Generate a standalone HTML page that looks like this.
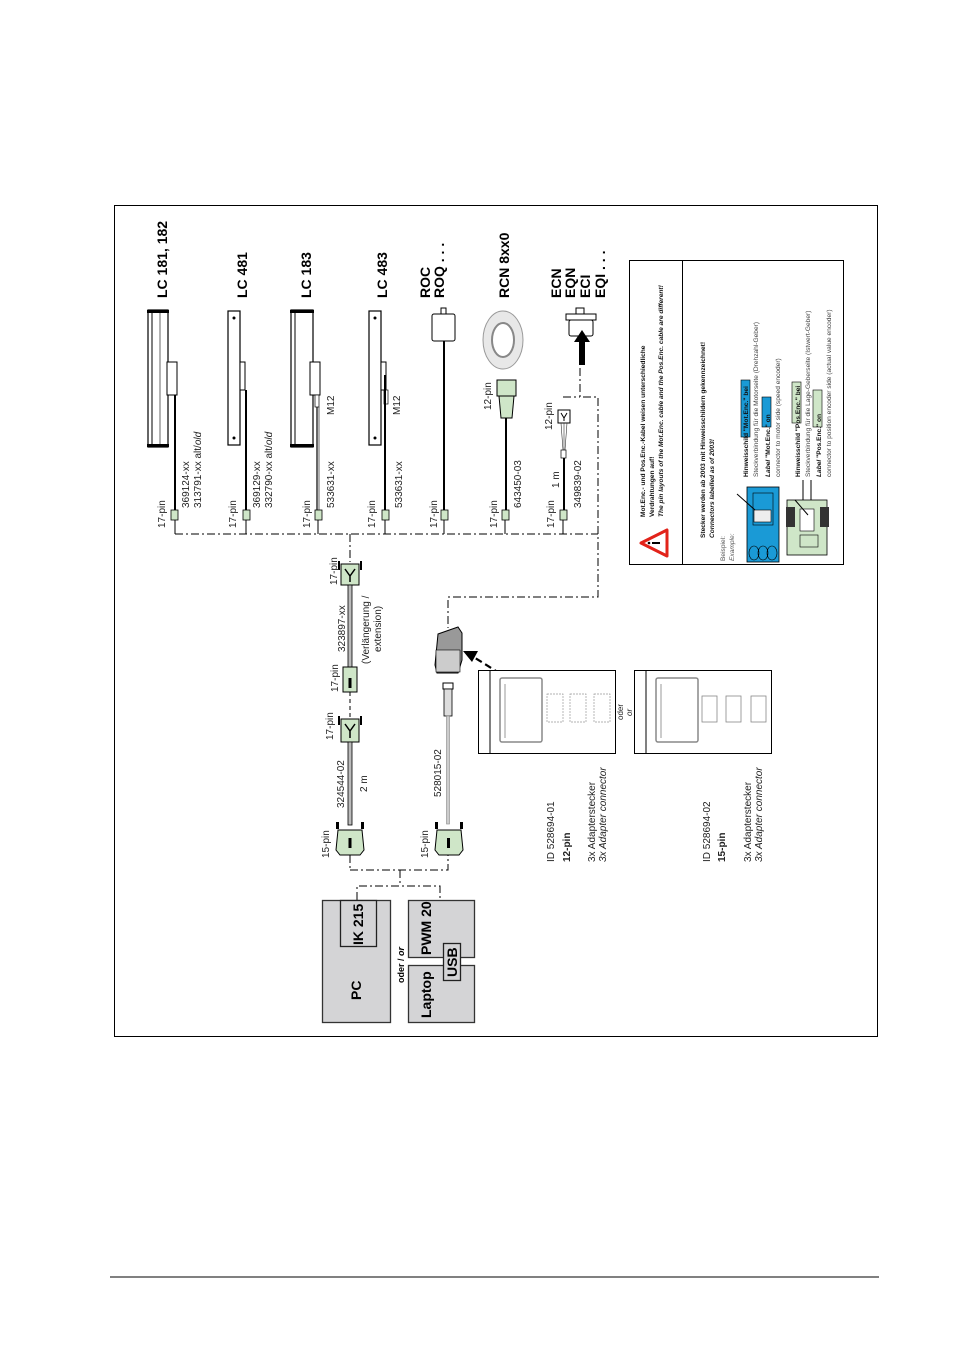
<!DOCTYPE html>
<html><head><meta charset="utf-8"><style>
html,body{margin:0;padding:0;background:#fff}
svg{display:block;font-family:"Liberation Sans",Arial,sans-serif}
.b{font-weight:bold;font-size:14px}
.l{font-size:10px;fill:#222}
.s{font-size:6.6px;fill:#111}
</style></head><body>
<svg width="954" height="1350" viewBox="0 0 954 1350" xmlns="http://www.w3.org/2000/svg">
<rect x="114.5" y="205.5" width="763" height="831" fill="none" stroke="#000" stroke-width="1"/>
<line x1="110" y1="1277" x2="879" y2="1277" stroke="#000" stroke-width="1"/>

<g class="b">
<text transform="translate(167,298) rotate(-90)">LC 181, 182</text>
<text transform="translate(247,298) rotate(-90)">LC 481</text>
<text transform="translate(311,298) rotate(-90)">LC 183</text>
<text transform="translate(387,298) rotate(-90)">LC 483</text>
<text transform="translate(430,298) rotate(-90)">ROC</text>
<text transform="translate(444,298) rotate(-90)">ROQ . . .</text>
<text transform="translate(509,298) rotate(-90)">RCN 8xx0</text>
<text transform="translate(561,298) rotate(-90)">ECN</text>
<text transform="translate(575,298) rotate(-90)">EQN</text>
<text transform="translate(590,298) rotate(-90)">ECI</text>
<text transform="translate(605,298) rotate(-90)">EQI . . .</text>
</g>

<rect x="148" y="310" width="20" height="137" fill="#fff" stroke="#000" stroke-width="1.2"/>
<rect x="147" y="310" width="22" height="3" fill="#000"/><rect x="147" y="444" width="22" height="3" fill="#000"/>
<line x1="152" y1="313" x2="152" y2="444" stroke="#000"/><line x1="160" y1="313" x2="160" y2="444" stroke="#000" stroke-width=".6"/>
<rect x="167" y="362" width="10" height="33" fill="#fff" stroke="#000"/>
<line x1="175" y1="395" x2="175" y2="510" stroke="#000" stroke-width="2"/>
<rect x="228" y="311" width="12" height="134" fill="#fff" stroke="#000" stroke-width="1.2"/>
<circle cx="234" cy="318" r="1.5"/><circle cx="234" cy="438" r="1.5"/>
<rect x="240" y="362" width="5" height="28" fill="#fff" stroke="#000"/>
<line x1="246" y1="390" x2="246" y2="510" stroke="#000" stroke-width="2"/>
<rect x="291" y="310" width="22" height="137" fill="#fff" stroke="#000" stroke-width="1.2"/>
<rect x="290" y="310" width="24" height="3" fill="#000"/><rect x="290" y="444" width="24" height="3" fill="#000"/>
<line x1="295" y1="313" x2="295" y2="444" stroke="#000"/>
<rect x="310" y="362" width="10" height="33" fill="#fff" stroke="#000"/>
<rect x="315" y="395" width="4" height="12" fill="#fff" stroke="#000" stroke-width=".7"/>
<line x1="317" y1="407" x2="317" y2="510" stroke="#000" stroke-width="1.2"/><line x1="319" y1="407" x2="319" y2="510" stroke="#000" stroke-width=".6"/>
<rect x="369" y="311" width="12" height="134" fill="#fff" stroke="#000" stroke-width="1.2"/>
<circle cx="375" cy="318" r="1.5"/><circle cx="375" cy="438" r="1.5"/>
<rect x="381" y="362" width="5" height="28" fill="#fff" stroke="#000"/>
<rect x="384" y="390" width="4" height="14" fill="#fff" stroke="#000" stroke-width=".7"/>
<line x1="385" y1="375" x2="385" y2="510" stroke="#000" stroke-width="2"/>
<rect x="441" y="308" width="5" height="6" fill="#fff" stroke="#000"/>
<rect x="432" y="314" width="23" height="27" rx="2" fill="#fff" stroke="#000"/>
<line x1="444" y1="341" x2="444" y2="510" stroke="#000" stroke-width="2"/>
<ellipse cx="503" cy="340" rx="20" ry="29" fill="#e8e8e8" stroke="#999"/>
<ellipse cx="503" cy="340" rx="11" ry="17" fill="#fff" stroke="#888" stroke-width="2"/>
<rect x="497" y="380" width="19" height="16" fill="#cfe6c8" stroke="#000"/>
<path d="M499 396 L514 396 L512 418 L501 418 Z" fill="#cfe6c8" stroke="#000"/>
<line x1="506" y1="418" x2="506" y2="510" stroke="#000" stroke-width="2"/>
<rect x="576" y="308" width="8" height="6" fill="#fff" stroke="#000"/>
<rect x="566" y="314" width="30" height="6" fill="#fff" stroke="#000"/>
<rect x="569" y="320" width="24" height="16" rx="2" fill="#fff" stroke="#000"/>
<path d="M574 342 L582 330 L590 342 L585 342 L585 365 L579 365 L579 342 Z" fill="#000"/>
<rect x="558" y="410" width="12" height="13" fill="#fff" stroke="#000"/>
<path d="M561 413 L564 418 L567 413 M564 418 L564 421" stroke="#000" fill="none"/>
<path d="M561 423 L563 450 M564 423 L564 450 M567 423 L565 450" stroke="#333" stroke-width=".6"/>
<rect x="561" y="450" width="5" height="8" fill="#fff" stroke="#000" stroke-width=".7"/>
<line x1="564" y1="458" x2="564" y2="510" stroke="#000" stroke-width="2"/>

<g fill="#cfe6c8" stroke="#000" stroke-width=".8">
<rect x="171" y="510" width="7" height="10"/><rect x="243" y="510" width="7" height="10"/>
<rect x="315" y="510" width="7" height="10"/><rect x="382" y="510" width="7" height="10"/>
<rect x="441" y="510" width="7" height="10"/><rect x="502" y="510" width="7" height="10"/>
<rect x="560" y="510" width="7" height="10"/>
</g>
<g stroke="#000">
<line x1="175" y1="520" x2="175" y2="534"/><line x1="246" y1="520" x2="246" y2="534"/>
<line x1="318" y1="520" x2="318" y2="534"/><line x1="385" y1="520" x2="385" y2="534"/>
<line x1="444" y1="520" x2="444" y2="534"/><line x1="505" y1="520" x2="505" y2="534"/>
<line x1="563" y1="520" x2="563" y2="534"/>
</g>
<g fill="none" stroke="#000" stroke-width="1" stroke-dasharray="8,3,2,3">
<line x1="175" y1="534" x2="598" y2="534"/>
<line x1="350" y1="534" x2="350" y2="562"/>
<path d="M580 368 L580 397 L598 397 L598 597 L448 597 L448 628"/>
<line x1="563" y1="397" x2="580" y2="397"/>
<line x1="350" y1="855" x2="350" y2="870"/>
<path d="M350 870 L448 870 L448 855"/>
<line x1="400" y1="870" x2="400" y2="886"/>
<path d="M357 900 L357 886 L440 886 L440 900"/>
</g>

<rect x="341" y="564" width="18" height="21" fill="#cfe6c8" stroke="#000"/>
<path d="M345 569 L350 576 L355 569 M350 576 L350 582" stroke="#000" stroke-width="1.5" fill="none"/>
<line x1="339" y1="561" x2="339" y2="570" stroke="#000" stroke-width="2"/><line x1="361" y1="561" x2="361" y2="570" stroke="#000" stroke-width="2"/>
<rect x="348" y="585" width="4" height="82" fill="#bbb" stroke="#000" stroke-width=".8"/>
<rect x="343" y="667" width="14" height="25" fill="#cfe6c8" stroke="#000"/>
<rect x="348.5" y="678" width="3" height="10" fill="#000"/>
<line x1="350" y1="692" x2="350" y2="717" stroke="#000" stroke-dasharray="4,3"/>
<rect x="341" y="719" width="18" height="23" fill="#cfe6c8" stroke="#000"/>
<path d="M345 724 L350 731 L355 724 M350 731 L350 738" stroke="#000" stroke-width="1.5" fill="none"/>
<line x1="339" y1="716" x2="339" y2="725" stroke="#000" stroke-width="2"/><line x1="361" y1="716" x2="361" y2="725" stroke="#000" stroke-width="2"/>
<rect x="348" y="742" width="4" height="83" fill="#bbb" stroke="#000" stroke-width=".8"/>
<path d="M338 830 L362 830 L364 850 L360 855 L340 855 L336 850 Z" fill="#cfe6c8" stroke="#000"/>
<rect x="336" y="822" width="3" height="7" fill="#000"/><rect x="361" y="822" width="3" height="7" fill="#000"/>
<rect x="348.5" y="838" width="3" height="10" fill="#000"/>

<path d="M438 634 L458 627 L462 633 L462 660 L458 673 L437 673 L435 665 Z" fill="#999" stroke="#000"/>
<rect x="436" y="650" width="24" height="22" fill="#ccc" stroke="#000" stroke-width=".6"/>
<rect x="443" y="683" width="10" height="6" fill="#fff" stroke="#000"/>
<rect x="444" y="689" width="8" height="27" fill="#ddd" stroke="#000" stroke-width=".8"/>
<rect x="446.5" y="716" width="3" height="108" fill="#ccc" stroke="#888" stroke-width=".6"/>
<path d="M437 830 L461 830 L463 850 L459 855 L439 855 L435 850 Z" fill="#cfe6c8" stroke="#000"/>
<rect x="435" y="822" width="3" height="7" fill="#000"/><rect x="460" y="822" width="3" height="7" fill="#000"/>
<rect x="447" y="838" width="3" height="10" fill="#000"/>
<line x1="547" y1="703" x2="472" y2="656" stroke="#000" stroke-width="2.2" stroke-dasharray="7,4"/>
<path d="M463 651 L478 651 L472 662 Z" fill="#000"/>

<rect x="478.5" y="670.5" width="137" height="83" fill="#fff" stroke="#000"/>
<line x1="490" y1="671" x2="490" y2="753" stroke="#000"/>
<rect x="500" y="678" width="42" height="64" rx="2" fill="#fff" stroke="#888" stroke-width="1.5"/>
<line x1="505" y1="684" x2="505" y2="738" stroke="#999"/>
<g fill="none" stroke="#999" stroke-dasharray="2,1" stroke-width=".7">
<rect x="547" y="694" width="16" height="28"/><rect x="570" y="694" width="16" height="28"/><rect x="594" y="694" width="16" height="28"/></g>
<rect x="634.5" y="670.5" width="137" height="83" fill="#fff" stroke="#000"/>
<line x1="646" y1="671" x2="646" y2="753" stroke="#000"/>
<rect x="656" y="678" width="42" height="64" rx="2" fill="#fff" stroke="#888" stroke-width="1.5"/>
<line x1="661" y1="684" x2="661" y2="738" stroke="#999"/>
<g fill="none" stroke="#888" stroke-width=".8">
<rect x="702" y="696" width="15" height="26"/><rect x="726" y="696" width="15" height="26"/><rect x="751" y="696" width="15" height="26"/></g>

<rect x="322.5" y="900.5" width="68" height="122" fill="#d4d4d6" stroke="#333" stroke-width="1.3"/>
<rect x="340.5" y="900.5" width="36" height="46" fill="#d4d4d6" stroke="#222" stroke-width="1.3"/>
<rect x="408.5" y="900.5" width="66" height="57" fill="#d4d4d6" stroke="#333" stroke-width="1.3"/>
<rect x="408.5" y="965.5" width="66" height="57" fill="#d4d4d6" stroke="#333" stroke-width="1.3"/>
<rect x="443.5" y="943.5" width="17" height="37" fill="#d4d4d6" stroke="#222" stroke-width="1.3"/>
<g class="b">
<text transform="translate(363,945) rotate(-90)">IK 215</text>
<text transform="translate(361,1000) rotate(-90)">PC</text>
<text transform="translate(431,955) rotate(-90)">PWM 20</text>
<text transform="translate(431,1018) rotate(-90)">Laptop</text>
<text transform="translate(457,977) rotate(-90)">USB</text>
</g>
<text transform="translate(404,983) rotate(-90)" style="font-size:9px;font-weight:bold">oder / <tspan font-style="italic">or</tspan></text>

<g class="l">
<text transform="translate(165,528) rotate(-90)">17-pin</text>
<text transform="translate(189,508) rotate(-90)">369124-xx</text>
<text transform="translate(201,508) rotate(-90)">313791-xx alt/<tspan font-style="italic">old</tspan></text>
<text transform="translate(236,528) rotate(-90)">17-pin</text>
<text transform="translate(260,508) rotate(-90)">369129-xx</text>
<text transform="translate(272,508) rotate(-90)">332790-xx alt/<tspan font-style="italic">old</tspan></text>
<text transform="translate(310,528) rotate(-90)">17-pin</text>
<text transform="translate(334,508) rotate(-90)">533631-xx</text>
<text transform="translate(334,415) rotate(-90)">M12</text>
<text transform="translate(375,528) rotate(-90)">17-pin</text>
<text transform="translate(402,508) rotate(-90)">533631-xx</text>
<text transform="translate(400,415) rotate(-90)">M12</text>
<text transform="translate(437,528) rotate(-90)">17-pin</text>
<text transform="translate(497,528) rotate(-90)">17-pin</text>
<text transform="translate(521,508) rotate(-90)">643450-03</text>
<text transform="translate(491,410) rotate(-90)">12-pin</text>
<text transform="translate(554,528) rotate(-90)">17-pin</text>
<text transform="translate(559,488) rotate(-90)">1 m</text>
<text transform="translate(581,508) rotate(-90)">349839-02</text>
<text transform="translate(552,430) rotate(-90)">12-pin</text>
<text transform="translate(337,585) rotate(-90)">17-pin</text>
<text transform="translate(345,652) rotate(-90)">323897-xx</text>
<text transform="translate(369,664) rotate(-90)">(Verlängerung /</text>
<text transform="translate(381,652) rotate(-90)">extension)</text>
<text transform="translate(338,692) rotate(-90)">17-pin</text>
<text transform="translate(333,740) rotate(-90)">17-pin</text>
<text transform="translate(344,808) rotate(-90)">324544-02</text>
<text transform="translate(367,792) rotate(-90)">2 m</text>
<text transform="translate(329,858) rotate(-90)">15-pin</text>
<text transform="translate(441,797) rotate(-90)">528015-02</text>
<text transform="translate(428,858) rotate(-90)">15-pin</text>
<text transform="translate(554,862) rotate(-90)">ID 528694-01</text>
<text transform="translate(570,862) rotate(-90)" font-weight="bold">12-pin</text>
<text transform="translate(595,862) rotate(-90)">3x Adapterstecker</text>
<text transform="translate(606,862) rotate(-90)" font-style="italic">3x Adapter connector</text>
<text transform="translate(710,862) rotate(-90)">ID 528694-02</text>
<text transform="translate(725,862) rotate(-90)" font-weight="bold">15-pin</text>
<text transform="translate(751,862) rotate(-90)">3x Adapterstecker</text>
<text transform="translate(762,862) rotate(-90)" font-style="italic">3x Adapter connector</text>
<text transform="translate(623,720) rotate(-90)" style="font-size:8px">oder</text>
<text transform="translate(632,716) rotate(-90)" style="font-size:8px;font-style:italic">or</text>
</g>

<rect x="629.5" y="260.5" width="214" height="304" fill="#fff" stroke="#000"/>
<line x1="682.5" y1="261" x2="682.5" y2="564" stroke="#000"/>
<path d="M641 543 L667 530 L667 556 Z" fill="#fff" stroke="#e2231a" stroke-width="3" stroke-linejoin="round"/>
<path d="M652 543 L660 543" stroke="#000" stroke-width="2"/><circle cx="649" cy="543" r="1.3"/>
<!-- label highlights -->
<rect x="741" y="380" width="9" height="57" fill="#1a9ad6" stroke="#000" stroke-width=".6"/>
<rect x="762" y="397" width="9" height="30" fill="#1a9ad6" stroke="#000" stroke-width=".6"/>
<rect x="792" y="382" width="9" height="41" fill="#cfe6c8" stroke="#000" stroke-width=".6"/>
<rect x="813" y="390" width="9" height="37" fill="#cfe6c8" stroke="#000" stroke-width=".6"/>
<g class="s">
<text transform="translate(645,517) rotate(-90)" font-weight="bold">Mot.Enc.- und Pos.Enc.-Kabel weisen unterschiedliche</text>
<text transform="translate(654,517) rotate(-90)" font-weight="bold">Verdrahtungen auf!</text>
<text transform="translate(663,517) rotate(-90)" font-weight="bold" font-style="italic">The pin layouts of the Mot.Enc. cable and the Pos.Enc. cable are different!</text>
<text transform="translate(705,538) rotate(-90)" font-weight="bold">Stecker werden ab 2003 mit Hinweisschildern gekennzeichnet!</text>
<text transform="translate(714,538) rotate(-90)" font-weight="bold" font-style="italic">Connectors labelled as of 2003!</text>
<text transform="translate(725,561) rotate(-90)" fill="#555">Beispiel:</text>
<text transform="translate(734,561) rotate(-90)" fill="#555" font-style="italic">Example:</text>
<text transform="translate(748,477) rotate(-90)" font-weight="bold">Hinweisschild "Mot.Enc." bei</text>
<text transform="translate(758,477) rotate(-90)" fill="#444">Steckverbindung für die Motorseite (Drehzahl-Geber)</text>
<text transform="translate(770,477) rotate(-90)" font-weight="bold"><tspan font-style="italic">Label</tspan> "Mot.Enc." on</text>
<text transform="translate(780,477) rotate(-90)" fill="#444">connector to motor side (speed encoder)</text>
<text transform="translate(800,477) rotate(-90)" font-weight="bold">Hinweisschild "Pos.Enc." bei</text>
<text transform="translate(810,477) rotate(-90)" fill="#444">Steckverbindung für die Lage-Geberseite (Istwert-Geber)</text>
<text transform="translate(821,477) rotate(-90)" font-weight="bold"><tspan font-style="italic">Label</tspan> "Pos.Enc." on</text>
<text transform="translate(831,477) rotate(-90)" fill="#444">connector to position encoder side (actual value encoder)</text>
</g>
<rect x="747" y="487" width="32" height="75" fill="#1a9ad6" stroke="#000" stroke-width=".8"/>
<rect x="753" y="493" width="20" height="32" fill="#1a9ad6" stroke="#000" stroke-width=".6"/>
<rect x="754" y="510" width="17" height="12" fill="#eee" stroke="#000" stroke-width=".6"/>
<g fill="none" stroke="#000" stroke-width=".6"><ellipse cx="754" cy="553" rx="5" ry="7"/><ellipse cx="763" cy="553" rx="5" ry="7"/><ellipse cx="772" cy="553" rx="5" ry="7"/></g>
<line x1="737" y1="494" x2="755" y2="510" stroke="#000"/>
<rect x="787" y="500" width="40" height="55" fill="#cfe6c8" stroke="#000" stroke-width=".8"/>
<rect x="786" y="507" width="9" height="20" fill="#333"/><rect x="820" y="507" width="9" height="20" fill="#333"/>
<rect x="800" y="509" width="14" height="22" fill="#fff" stroke="#000" stroke-width=".6"/>
<rect x="800" y="535" width="18" height="12" fill="#cfe6c8" stroke="#000" stroke-width=".6"/>
<line x1="803" y1="480" x2="803" y2="500" stroke="#000"/><line x1="811" y1="480" x2="811" y2="500" stroke="#000"/>
<line x1="795" y1="500" x2="808" y2="515" stroke="#000"/>
</svg>
</body></html>
